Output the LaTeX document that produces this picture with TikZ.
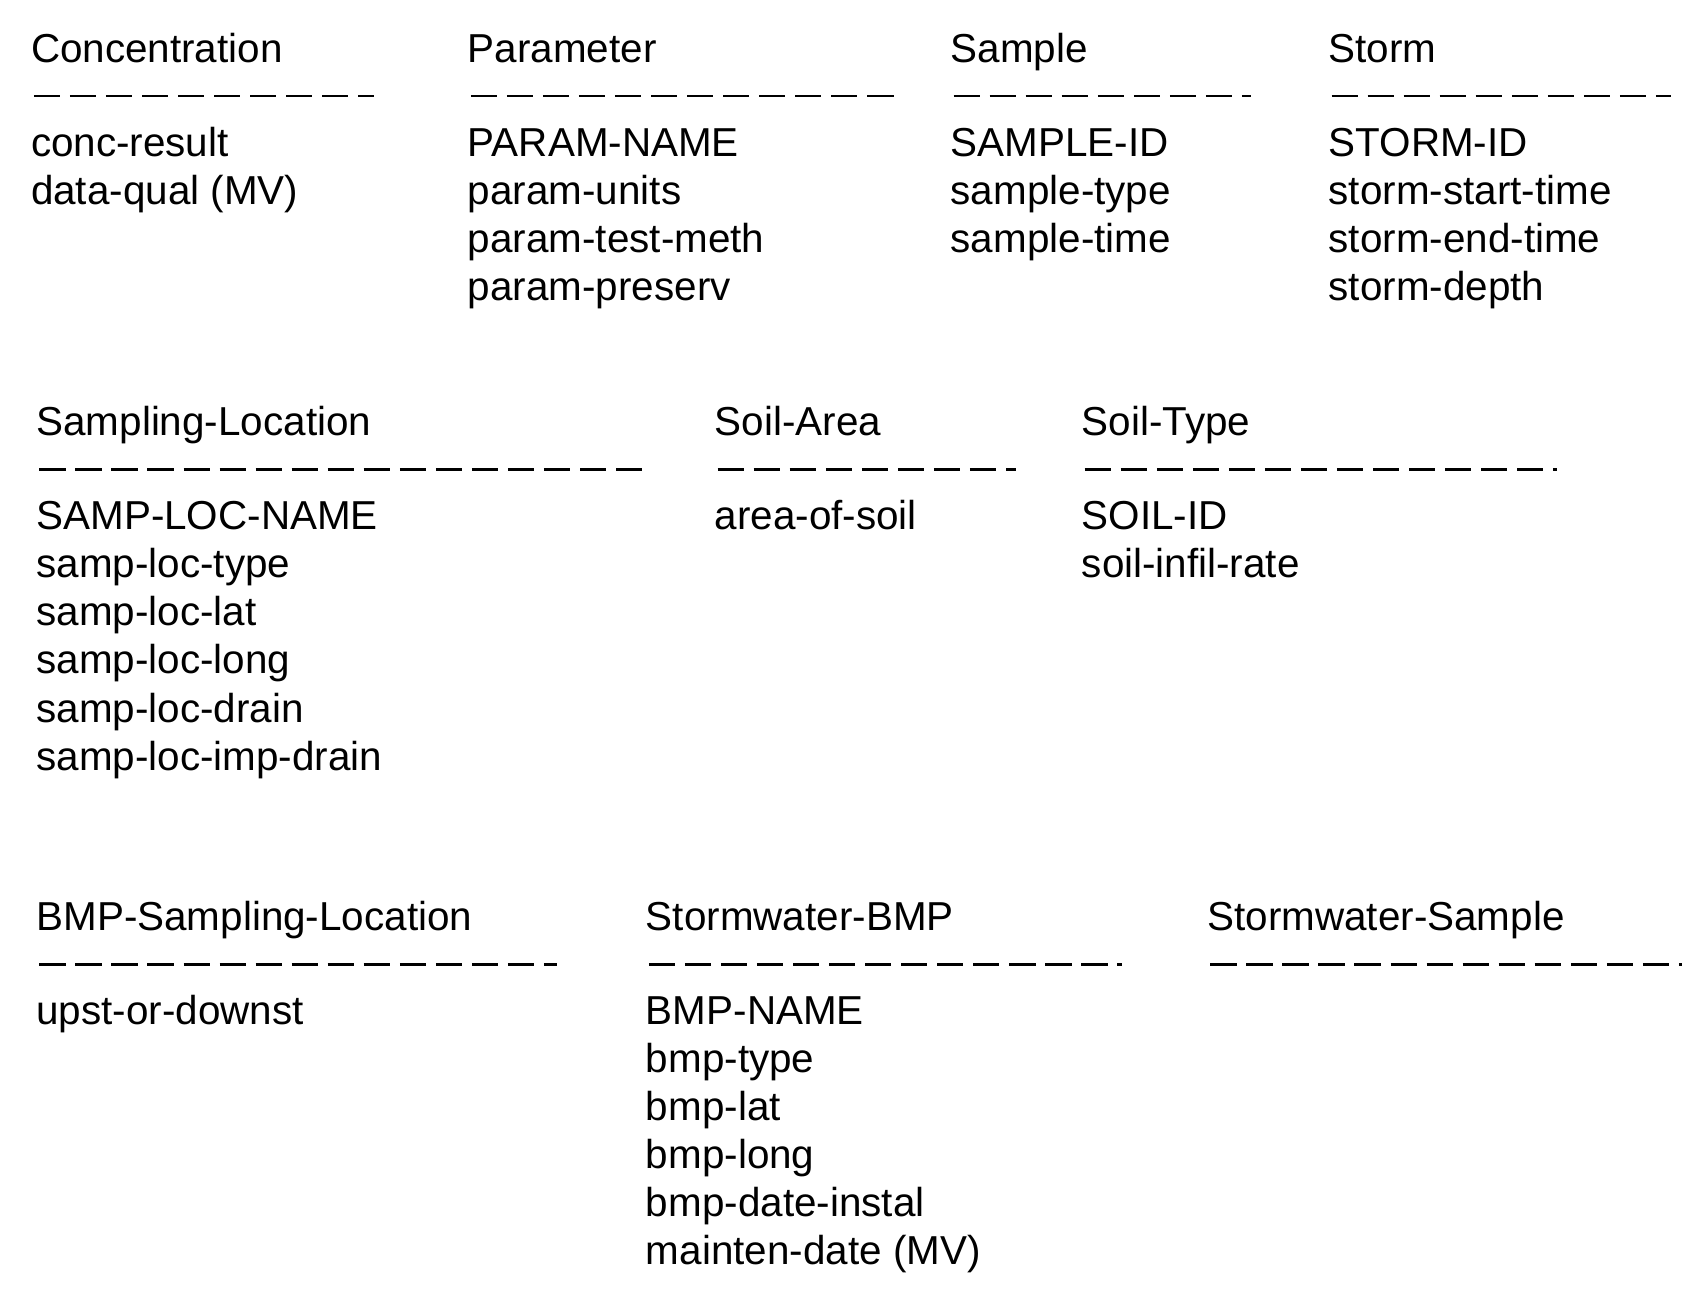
\documentclass[tikz,border=0pt]{standalone}
\usepackage{fontspec}
\setmainfont{Liberation Sans}
\tikzset{
  title/.style={anchor=base west, inner sep=0pt, font=\fontsize{18.5}{22}\selectfont},
  attr/.style={anchor=base west, inner sep=0pt, font=\fontsize{18.5}{22}\selectfont},
  rule/.style={line width=1.1pt, dash pattern=on 12pt off 4.5pt}
}
% entity: name, x, title baseline y, dash end x, attribute list
\newcommand{\entity}[5]{%
  \node[title] (#1) at (#2,#3) {#1};
  \draw[rule] (#2+3,#3+31) -- (#4,#3+31);
  \foreach \a [count=\i] in {#5} {
    \node[attr] (#1-\i) at (#2,#3+42+44*\i) {\a};
  }
}
\begin{document}
\begin{tikzpicture}[x=0.5pt, y=-0.5pt]
\useasboundingbox (0,0) rectangle (1560,1183);

% first row
\entity{Concentration}{28}{57}{342}{conc-result, data-qual (MV)}
\entity{Parameter}{428}{57}{822}{PARAM-NAME, param-units, param-test-meth, param-preserv}
\entity{Sample}{870}{57}{1145}{SAMPLE-ID, sample-type, sample-time}
\entity{Storm}{1216}{57}{1530}{STORM-ID, storm-start-time, storm-end-time, storm-depth}

% second row
\entity{Sampling-Location}{33}{399}{588}{SAMP-LOC-NAME, samp-loc-type, samp-loc-lat, samp-loc-long, samp-loc-drain, samp-loc-imp-drain}
\entity{Soil-Area}{654}{399}{930}{area-of-soil}
\entity{Soil-Type}{990}{399}{1425}{SOIL-ID, soil-infil-rate}

% third row
\entity{BMP-Sampling-Location}{33}{852}{510}{upst-or-downst}
\entity{Stormwater-BMP}{591}{852}{1027}{BMP-NAME, bmp-type, bmp-lat, bmp-long, bmp-date-instal, mainten-date (MV)}
\node[title] (Stormwater-Sample) at (1105,852) {Stormwater-Sample};
\draw[rule] (1108,883) -- (1540,883);
\end{tikzpicture}
\end{document}
